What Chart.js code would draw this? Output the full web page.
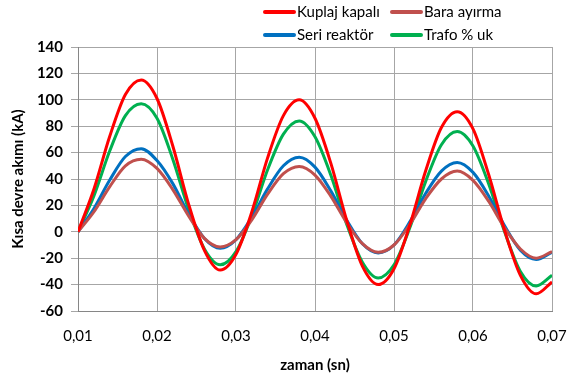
<!DOCTYPE html>
<html>
<head>
<meta charset="utf-8">
<script src="https://cdn.jsdelivr.net/npm/chart.js@4.4.1/dist/chart.umd.min.js"></script>
<style>
    html, body { margin: 0; padding: 0; background: #fff; }
    #wrap { width: 576px; height: 378px; }
</style>
</head>
<body>
<div id="wrap"><canvas id="chart" width="576" height="378"></canvas></div>
<script>
// zaman (sn)
const zaman = [0.010, 0.012, 0.014, 0.016, 0.018, 0.020, 0.022, 0.024, 0.026, 0.028,
               0.030, 0.032, 0.034, 0.036, 0.038, 0.040, 0.042, 0.044, 0.046, 0.048,
               0.050, 0.052, 0.054, 0.056, 0.058, 0.060, 0.062, 0.064, 0.066, 0.068, 0.070];

// Kisa devre akimi (kA)
const kuplajKapali = [0, 32, 72, 104, 115, 101, 65, 21, -14, -29, -17, 15, 56, 88, 100, 86, 52, 9, -26, -40,
                      -28, 5, 46, 79, 91, 78, 43, 1, -33, -47, -38];
const baraAyirma = [0, 15, 34, 50, 55, 48, 32, 12, -5, -11.5, -6, 9, 28.5, 44, 49.5, 43, 27, 7, -9, -15.5,
                    -10, 5.6, 25, 40, 46, 39, 23, 3, -13, -20, -15];
const seriReaktor = [0, 17.5, 39, 57, 63, 54, 36.5, 13.5, -5, -12.5, -6, 11, 32.5, 50, 56.5, 49, 31, 9, -9, -16,
                     -10, 7.5, 29, 46, 52.5, 45, 27, 4.5, -14, -21, -15.5];
const trafoUk = [0, 27, 61, 88, 97, 86, 55, 17, -13, -25, -15, 12, 47, 74, 84, 72, 43, 6, -23, -35,
                 -25, 3, 38, 66, 76, 65, 36, 0, -30, -41, -33];

const seriesNames = ['Kuplaj kapalı', 'Bara ayırma', 'Seri reaktör', 'Trafo % uk'];
const seriesColors = ['#ff0000', '#c0504d', '#0070c0', '#00b050'];

const xTicks = [0.01, 0.02, 0.03, 0.04, 0.05, 0.06, 0.07];
const yTicks = [-60, -40, -20, 0, 20, 40, 60, 80, 100, 120, 140];

function toPoints(values) {
    return values.map(function(v, i) { return { x: zaman[i], y: v }; });
}

const seriesValues = [kuplajKapali, baraAyirma, seriReaktor, trafoUk];

// legend in two columns like the excel one
const legendPlugin = {
    id: 'twoColLegend',
    afterDraw: function(chart) {
        const ctx = chart.ctx;
        const cols = [263, 390];
        const rows = [12, 35];
        ctx.save();
        ctx.font = '15px Lato';
        ctx.textBaseline = 'middle';
        ctx.textAlign = 'left';
        chart.data.datasets.forEach(function(ds, i) {
            const x = cols[i % 2];
            const y = rows[Math.floor(i / 2)];
            ctx.strokeStyle = ds.borderColor;
            ctx.lineWidth = 4;
            ctx.lineCap = 'round';
            ctx.beginPath();
            ctx.moveTo(x + 2, y);
            ctx.lineTo(x + 31, y);
            ctx.stroke();
            ctx.fillStyle = '#000';
            ctx.fillText(ds.label, x + 34, y);
        });
        ctx.restore();
    }
};

const ctx = document.getElementById('chart').getContext('2d');
const chart = new Chart(ctx, {
    type: 'line',
    data: {
        datasets: seriesNames.map(function(name, i) {
            return {
                label: name,
                data: toPoints(seriesValues[i]),
                borderColor: seriesColors[i],
                backgroundColor: seriesColors[i],
                borderWidth: 3,
                pointRadius: 0,
                cubicInterpolationMode: 'monotone',
                fill: false
            };
        })
    },
    options: {
        responsive: false,
        animation: false,
        layout: {
            padding: { top: 47, right: 24, left: 0, bottom: 0 }
        },
        plugins: {
            legend: { display: false },
            tooltip: { enabled: false }
        },
        scales: {
            x: {
                type: 'linear',
                min: 0.01,
                max: 0.07,
                afterBuildTicks: function(scale) {
                    scale.ticks = xTicks.map(function(v) { return { value: v }; });
                },
                afterFit: function(scale) { scale.height = 67; },
                // invisible tick marks just to push the labels down
                grid: { color: '#a6a6a6', tickColor: 'rgba(0,0,0,0)', tickLength: 14, lineWidth: 1 },
                border: { color: '#868686' },
                ticks: {
                    padding: 2,
                    color: '#000',
                    font: { family: 'Lato', size: 15 },
                    callback: function(v) { return v.toFixed(2).replace('.', ','); }
                },
                title: {
                    display: true,
                    text: 'zaman (sn)',
                    color: '#000',
                    font: { family: 'Lato', size: 15, weight: 'bold' },
                    padding: { top: 4, bottom: 4 }
                }
            },
            y: {
                min: -60,
                max: 140,
                afterBuildTicks: function(scale) {
                    scale.ticks = yTicks.map(function(v) { return { value: v }; });
                },
                afterFit: function(scale) { scale.width = 78; },
                grid: { color: '#a6a6a6', tickLength: 7, lineWidth: 1 },
                border: { color: '#868686' },
                ticks: {
                    padding: 8,
                    color: '#000',
                    font: { family: 'Lato', size: 15, weight: 'bold' }
                },
                title: {
                    display: true,
                    text: 'Kısa devre akımı (kA)',
                    color: '#000',
                    font: { family: 'Lato', size: 15, weight: 'bold' },
                    padding: { top: 9, bottom: 4 }
                }
            }
        }
    },
    plugins: [legendPlugin]
});
</script>
</body>
</html>
